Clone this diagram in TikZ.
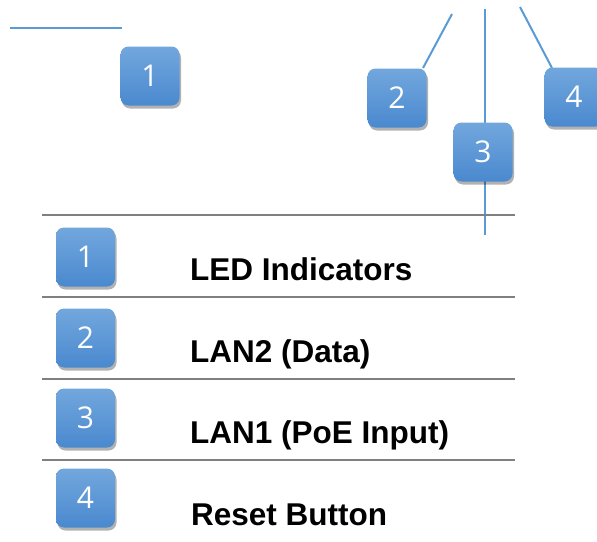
\documentclass[tikz,border=0pt]{standalone}
\usepackage{fontspec}
\setmainfont{Liberation Sans}
\newfontfamily\numfont{Open Sans}
\usetikzlibrary{shadows}
\definecolor{leaderblue}{HTML}{5B9BD5}
\definecolor{badgetop}{HTML}{72A7DD}
\definecolor{badgebot}{HTML}{4A89CF}
\definecolor{rulegray}{HTML}{808080}
\begin{document}
\begin{tikzpicture}[x=1pt,y=-1pt,
  badge/.style={rounded corners=8pt, minimum width=59pt, minimum height=59pt,
    top color=badgetop, bottom color=badgebot, draw=none, text=white,
    font=\numfont\fontsize{30}{33}\selectfont, inner sep=0pt,
    drop shadow={shadow xshift=1.5pt, shadow yshift=-3pt, fill=black, opacity=0.3}},
  leader/.style={draw=leaderblue, line width=2pt},
  rowrule/.style={draw=rulegray, line width=2pt},
  rowtext/.style={anchor=base west, font=\bfseries\fontsize{31.5}{36}\selectfont, inner sep=0pt}]
\useasboundingbox (0,0) rectangle (597,541);

% leader lines (drawn first so badges sit on top)
\coordinate (l1a) at (10,28);   \coordinate (l1b) at (122,28);
\coordinate (l2a) at (452,14);  \coordinate (l2b) at (423,68);
\coordinate (l3a) at (485,9);   \coordinate (l3b) at (485,235);
\coordinate (l4a) at (520,7);   \coordinate (l4b) at (552,68);
\draw[leader] (l1a) -- (l1b);
\draw[leader] (l2a) -- (l2b);
\draw[leader] (l3a) -- (l3b);
\draw[leader] (l4a) -- (l4b);

% callout badges
\node[badge] (b1) at (150,76) {1};
\node[badge] (b2) at (397,98) {2};
\node[badge] (b3) at (483,152) {3};
\node[badge] (b4) at (574,97) {4};

% table rules
\coordinate (r0a) at (42,215); \coordinate (r0b) at (515,215);
\coordinate (r1a) at (42,297); \coordinate (r1b) at (515,297);
\coordinate (r2a) at (42,379); \coordinate (r2b) at (515,379);
\coordinate (r3a) at (42,460); \coordinate (r3b) at (515,460);
\draw[rowrule] (r0a) -- (r0b);
\draw[rowrule] (r1a) -- (r1b);
\draw[rowrule] (r2a) -- (r2b);
\draw[rowrule] (r3a) -- (r3b);

% table rows
\node[badge] (t1) at (85.5,257) {1};
\node[badge] (t2) at (85.5,338) {2};
\node[badge] (t3) at (85.5,418) {3};
\node[badge] (t4) at (85.5,498) {4};
\node[rowtext] (x1) at (190,280) {LED Indicators};
\node[rowtext] (x2) at (190,362) {LAN2 (Data)};
\node[rowtext] (x3) at (190,443) {LAN1 (PoE Input)};
\node[rowtext] (x4) at (191,525) {Reset Button};
\end{tikzpicture}
\end{document}
